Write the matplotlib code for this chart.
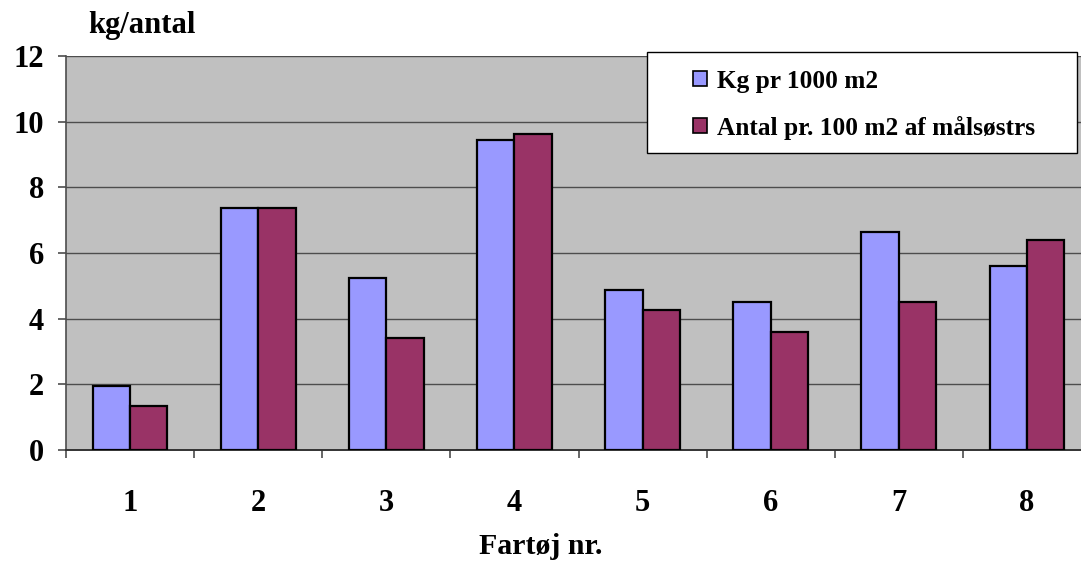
import numpy as np
import matplotlib.pyplot as plt
from matplotlib.patches import Rectangle

# Data
fartoj = ['1', '2', '3', '4', '5', '6', '7', '8']
kg_pr_1000 = [1.96, 7.38, 5.24, 9.44, 4.88, 4.51, 6.64, 5.61]
antal_pr_100 = [1.35, 7.38, 3.42, 9.63, 4.26, 3.60, 4.51, 6.39]

plt.rcParams['font.family'] = ['Liberation Serif', 'DejaVu Serif']
plt.rcParams['font.weight'] = 'bold'

W, H = 1081, 563
fig = plt.figure(figsize=(W / 100, H / 100), dpi=100)
ax = fig.add_axes([66 / W, 1 - 450 / H, (1091 - 66) / W, (450 - 56) / H])

x = np.arange(len(fartoj))
bw = 0.292
ax.bar(x - bw / 2, kg_pr_1000, bw, color='#9999FF', edgecolor='black',
       linewidth=1.6, label='Kg pr 1000 m2', zorder=3)
ax.bar(x + bw / 2, antal_pr_100, bw, color='#993366', edgecolor='black',
       linewidth=1.6, label='Antal pr. 100 m2 af målsøstrs', zorder=3)

ax.set_facecolor('#C0C0C0')
ax.set_xlim(-0.5, len(fartoj) - 0.5)
ax.set_ylim(0, 12)
ax.set_yticks(range(0, 13, 2))
ax.yaxis.grid(True, color='#4d4d4d', linewidth=1.0, zorder=1)
ax.set_axisbelow(True)

for s in ['top', 'right']:
    ax.spines[s].set_visible(False)
ax.spines['left'].set_color('#4d4d4d')
ax.spines['bottom'].set_color('#333333')
ax.spines['left'].set_linewidth(1.2)
ax.spines['bottom'].set_linewidth(1.4)

ax.set_xticks(x)
ax.set_xticklabels(fartoj)
ax.set_xticks(np.arange(-0.5, len(fartoj) + 0.5, 1), minor=True)
ax.tick_params(axis='x', which='major', length=0, pad=28, labelsize=22)
ax.tick_params(axis='x', which='minor', length=6, width=1.2, color='#4d4d4d')
ax.tick_params(axis='y', length=6, width=1.2, color='#4d4d4d', pad=10, labelsize=22)

fig.text(88 / W, 1 - 25 / H, 'kg/antal', ha='left', va='center',
         fontsize=22, fontweight='bold')
fig.text(541 / W, 1 - 546 / H, 'Fartøj nr.', ha='center', va='center',
         fontsize=21.5, fontweight='bold')

# legend box
fig.patches.append(Rectangle((647 / W, 1 - 153 / H), (1077 - 647) / W, (153 - 52) / H,
                             transform=fig.transFigure, facecolor='white',
                             edgecolor='black', linewidth=1.0, zorder=5))
leg = fig.legend(loc='upper left', bbox_to_anchor=(680 / W, 1 - 57 / H),
                 frameon=False, fontsize=18.3, handlelength=0.56, handleheight=0.56,
                 handletextpad=0.4, labelspacing=0.9, borderpad=0)
leg.set_zorder(6)
for p in leg.get_patches():
    p.set_linewidth(1.2)

fig.savefig('out.png', dpi=100)
